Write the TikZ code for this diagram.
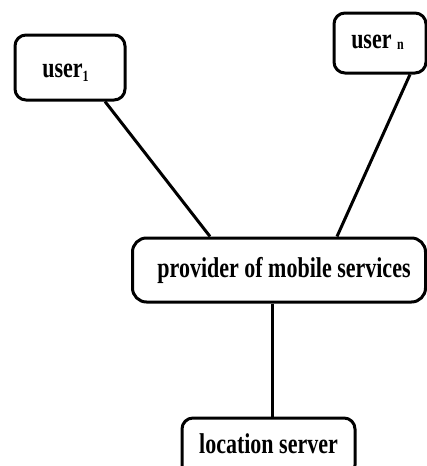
\documentclass[tikz,border=0pt]{standalone}
\usepackage{fontspec}
\setmainfont{Liberation Serif}
\usetikzlibrary{calc}
\tikzset{
  box/.style={draw=black, line width=3pt, rounded corners=11pt, fill=white,
    inner sep=0pt, text height=0pt, text depth=0pt,
    font=\fontsize{22}{26}\selectfont\bfseries},
  link/.style={draw=black, line width=3pt}
}
\newcommand{\tall}[2]{\raisebox{#1}{\scalebox{1}[1.3]{#2}}}
\newcommand{\mysub}[2]{\raisebox{#1}{\fontsize{12}{14}\selectfont\bfseries #2}}
\begin{document}
\begin{tikzpicture}[x=1pt,y=-1pt]
\useasboundingbox (0,0) rectangle (427,466);
\node[box, minimum width=110pt, minimum height=65pt] (u1) at (70,67.5)
  {\tall{-9.5pt}{user\mysub{-3.8pt}{1}}\hspace*{9pt}};
\node[box, minimum width=92pt, minimum height=60pt] (un) at (380,43)
  {\tall{-5pt}{user \mysub{-1.5pt}{n}}\hspace*{5pt}};
\node[box, minimum width=293pt, minimum height=64pt, rounded corners=14pt] (prov) at (279,270)
  {\hspace*{10pt}\tall{-7pt}{provider of mobile services}};
\node[box, minimum width=173pt, minimum height=58pt] (loc) at (268.5,447)
  {\tall{-6pt}{location server}};
\draw[link] ($(u1.south)+(35,0)$) -- ($(prov.north)+(-69,0)$);
\draw[link] ($(un.south)+(30,0)$) -- ($(prov.north)+(58,0)$);
\draw[link] ($(prov.south)+(-7,0)$) -- ($(loc.north)+(3.5,0)$);
\end{tikzpicture}
\end{document}
